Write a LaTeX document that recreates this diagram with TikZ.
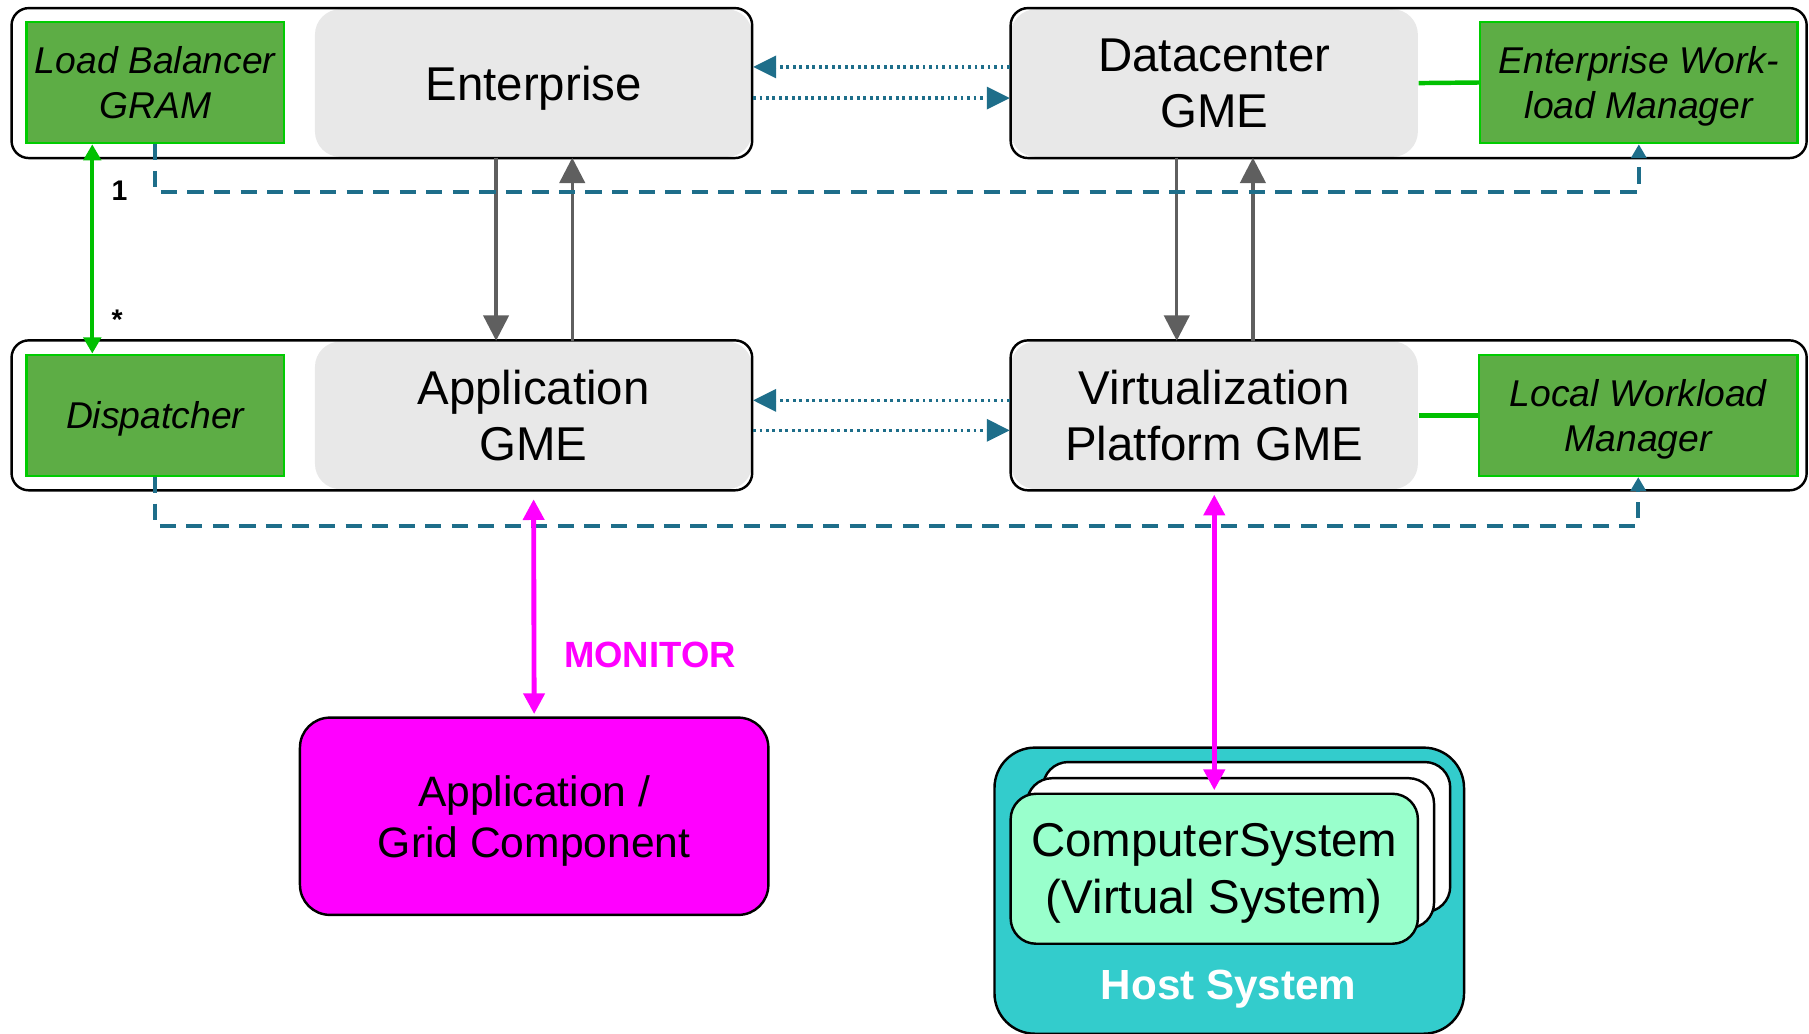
\documentclass[tikz,border=0pt]{standalone}
\usepackage{fontspec}
\setmainfont{Liberation Sans}
\usetikzlibrary{arrows.meta,positioning}
\definecolor{gmegray}{HTML}{E8E8E8}
\definecolor{mgrgreen}{HTML}{5DAD45}
\definecolor{mgredge}{HTML}{00CC00}
\definecolor{linkgreen}{HTML}{00C000}
\definecolor{linkteal}{HTML}{1E6E8A}
\definecolor{arrowgray}{HTML}{5F5F5F}
\definecolor{monmagenta}{HTML}{FF00FF}
\definecolor{hostteal}{HTML}{33CCCC}
\definecolor{vmmint}{HTML}{99FFCC}
\tikzset{
  groupbox/.style={
    rectangle,
    rounded corners=1.5mm,
    draw=black,
    line width=0.6pt,
    inner sep=0pt,
    minimum height=13mm
  },
  gmebox/.style={
    rectangle,
    rounded corners=2.2mm,
    fill=gmegray,
    inner sep=0pt,
    minimum height=12.8mm,
    text depth=0pt,
    align=center,
    font=\fontsize{11.7}{14}\selectfont
  },
  mgrbox/.style={
    rectangle,
    fill=mgrgreen,
    draw=mgredge,
    line width=0.6pt,
    inner sep=0pt,
    minimum width=22.3mm,
    minimum height=10.5mm,
    text depth=0pt,
    align=center,
    font=\fontsize{9.2}{11.1}\selectfont\itshape
  },
  compbox/.style={
    rectangle,
    rounded corners=2.6mm,
    fill=monmagenta,
    draw=black,
    line width=0.6pt,
    minimum width=40.6mm,
    minimum height=17.1mm,
    text depth=0pt,
    align=center,
    font=\fontsize{10.5}{12.5}\selectfont
  },
  hostbox/.style={
    rectangle,
    rounded corners=3.5mm,
    fill=hostteal,
    draw=black,
    line width=0.6pt,
    minimum width=40.7mm,
    minimum height=24.8mm
  },
  vmcard/.style={
    rectangle,
    rounded corners=2.2mm,
    fill=vmmint,
    draw=black,
    line width=0.6pt,
    inner sep=0pt,
    minimum width=35.3mm,
    minimum height=13mm,
    text depth=0pt,
    align=center,
    font=\fontsize{11.7}{14}\selectfont
  },
  hostlabel/.style={text=white, font=\fontsize{10.4}{12}\selectfont\bfseries},
  monlabel/.style={text=monmagenta, inner sep=0pt, font=\fontsize{9}{11}\selectfont\bfseries},
  cardlabel/.style={inner sep=0pt, font=\fontsize{7}{8}\selectfont\bfseries},
  gmearrow/.style={-{Triangle[length=2.2mm,width=2.2mm]}, line width=0.8pt, draw=arrowgray},
  dotarrow/.style={-{Triangle[length=2mm,width=1.9mm]}, line width=0.9pt, draw=linkteal, dash pattern=on 0.7pt off 0.9pt},
  dashlink/.style={-{Triangle[length=1.2mm,width=1.3mm]}, line width=1pt, draw=linkteal, dash pattern=on 1.4mm off 0.9mm},
  mgrlink/.style={line width=1.1pt, draw=linkgreen},
  lbarrow/.style={{Triangle[length=1.4mm,width=1.5mm]}-{Triangle[length=1.4mm,width=1.5mm]}, line width=1pt, draw=linkgreen},
  monarrow/.style={{Triangle[length=1.8mm,width=1.8mm]}-{Triangle[length=1.8mm,width=1.8mm]}, line width=1.2pt, draw=monmagenta}
}
\begin{document}
\begin{tikzpicture}[x=0.1mm,y=-0.1mm]
\useasboundingbox (0,0) rectangle (1568,896);
\node[gmebox, minimum width=37.9mm] (ent) at (462.5,72) {Enterprise};
\node[gmebox, minimum width=35.3mm] (dcgme) at (1052.5,72) {Datacenter\\GME};
\node[gmebox, minimum width=37.9mm] (appgme) at (462.5,360) {Application\\GME};
\node[gmebox, minimum width=35.3mm] (vpgme) at (1052.5,360) {Virtualization\\Platform GME};
\node[groupbox, minimum width=64.2mm] (entgrp) at (331,72) {};
\node[groupbox, minimum width=69mm] (dcgrp) at (1221,72) {};
\node[groupbox, minimum width=64.2mm] (appgrp) at (331,360) {};
\node[groupbox, minimum width=69mm] (vpgrp) at (1221,360) {};
\node[mgrbox] (lb) at (134.5,71.5) {Load Balancer\\GRAM};
\node[mgrbox, minimum width=27.5mm] (ewm) at (1420.5,71.5) {Enterprise Work-\\load Manager};
\node[mgrbox] (disp) at (134.5,360) {Dispatcher};
\node[mgrbox, minimum width=27.6mm] (lwm) at (1420,360) {Local Workload\\Manager};
\node[compbox] (appcomp) at (463,707.5) {Application /\\Grid Component};
\node[hostbox] (host) at (1065.5,772) {};
\node[vmcard, fill=white] (vmback) at (1080.5,725.5) {};
\node[vmcard, fill=white] (vmmid) at (1066.5,739.5) {};
\node[vmcard] (vm) at (1052.5,753) {ComputerSystem\\(Virtual System)};
\node[hostlabel] (hostlbl) at (1065,857) {Host System};
\draw[dotarrow] ([yshift=1.4mm]dcgme.west) -- ([yshift=1.4mm]ent.east);
\draw[dotarrow] ([yshift=-1.3mm]ent.east) -- ([yshift=-1.3mm]dcgme.west);
\draw[dotarrow] ([yshift=1.3mm]vpgme.west) -- ([yshift=1.3mm]appgme.east);
\draw[dotarrow] ([yshift=-1.3mm]appgme.east) -- ([yshift=-1.3mm]vpgme.west);
\draw[gmearrow] ([xshift=-3.25mm]ent.south) -- ([xshift=-3.25mm]appgme.north);
\draw[gmearrow] ([xshift=3.35mm]appgme.north) -- ([xshift=3.35mm]ent.south);
\draw[gmearrow] ([xshift=-3.25mm]dcgme.south) -- ([xshift=-3.25mm]vpgme.north);
\draw[gmearrow] ([xshift=3.35mm]vpgme.north) -- ([xshift=3.35mm]dcgme.south);
\draw[mgrlink] (dcgme.east) -- (ewm.west);
\draw[mgrlink] (vpgme.east) -- (lwm.west);
\draw[lbarrow] ([xshift=-5.45mm]lb.south) -- node[pos=0.22, right=1.5mm, cardlabel] {1} node[pos=0.84, right=1.5mm, cardlabel] {*} ([xshift=-5.45mm]disp.north);
\draw[dashlink] (lb.south) -- ++(0,-4.1mm) -| (ewm.south);
\draw[dashlink] (disp.south) -- ++(0,-4.2mm) -| (lwm.south);
\draw[monarrow, shorten <=0.8mm, shorten >=0.2mm] (appgme.south) -- node[pos=0.73, right=2.4mm, monlabel] {MONITOR} (appcomp.north);
\draw[monarrow, shorten <=0.4mm, shorten >=0.2mm] (vpgme.south) -- (vm.north);
\end{tikzpicture}
\end{document}
